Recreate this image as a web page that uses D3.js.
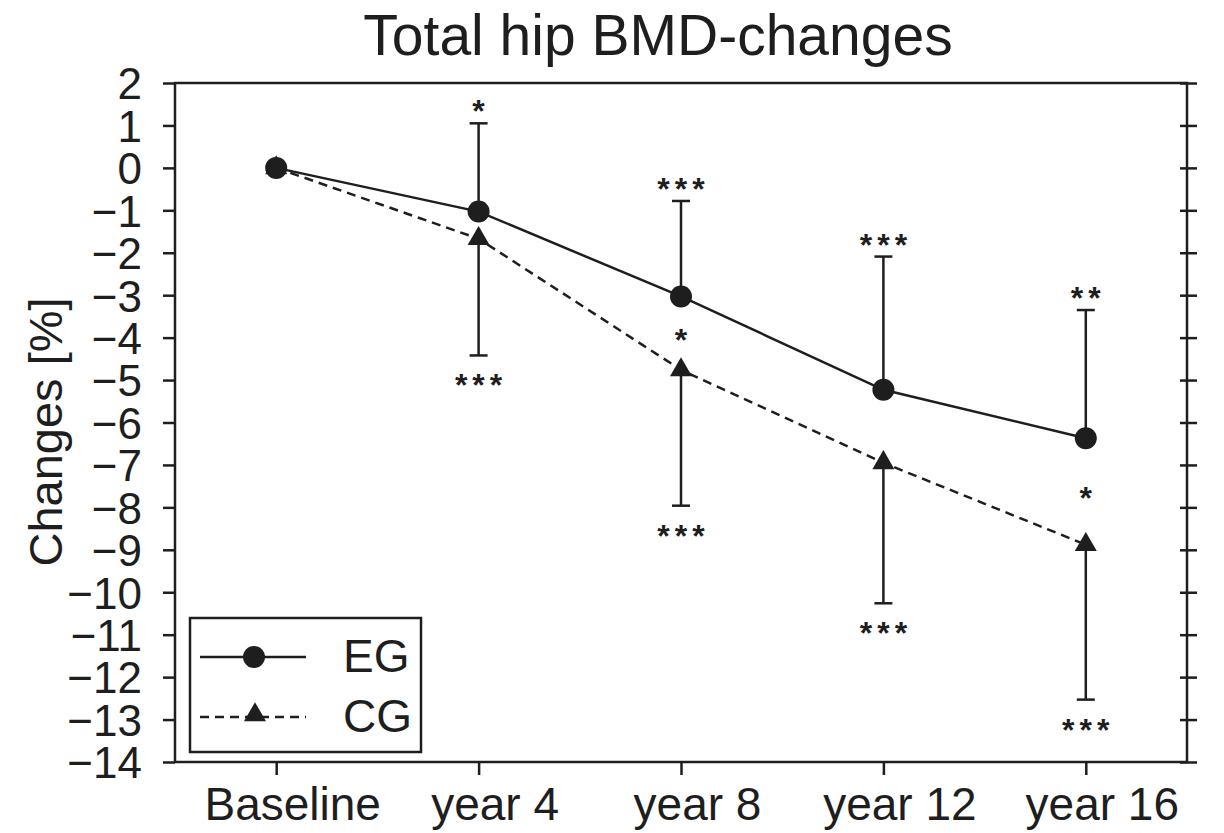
<!DOCTYPE html>
<html>
<head>
<meta charset="utf-8">
<script src="https://cdn.jsdelivr.net/npm/d3@7"></script>
<style>
    body { margin: 0; background: white; }
    text { font-family: "Liberation Sans", Arial, Helvetica, sans-serif; fill: #1e1e1e; }
</style>
</head>
<body>
<div id="chart"></div>
<script>
// values (% change of total hip BMD)
const categories = ["Baseline", "year 4", "year 8", "year 12", "year 16"];
const egValues = [0, -1.03, -3.03, -5.23, -6.37];
const cgValues = [0, -1.67, -4.76, -6.95, -8.88];
const egUpper = [null, 1.05, -0.78, -2.09, -3.35];
const cgLower = [null, -4.42, -7.96, -10.26, -12.53];
const egStars = ["", "*", "***", "***", "**"];
const cgStars = ["", "***", "***", "***", "***"];
const groupStars = ["", "", "*", "", "*"];
const yTicks = d3.range(-14, 3, 1);

const width = 1224, height = 833;
const ink = "#1e1e1e";

const svg = d3.select("#chart").append("svg")
    .attr("width", width)
    .attr("height", height)
    .style("background-color", "white");

const x = d3.scalePoint()
    .domain(categories)
    .range([175, 1187])
    .padding(0.5);

const y = d3.scaleLinear()
    .domain([-14, 2])
    .range([762, 83]);

const left = x.range()[0], right = x.range()[1];

// title
svg.append("text")
    .attr("x", 658)
    .attr("y", 55)
    .attr("text-anchor", "middle")
    .style("font-size", "57px")
    .text("Total hip BMD-changes");

// y axis label
svg.append("text")
    .attr("transform", "translate(62," + 432 + ") rotate(-90)")
    .attr("text-anchor", "middle")
    .style("font-size", "47px")
    .text("Changes [%]");

// frame
svg.append("rect")
    .attr("x", left)
    .attr("y", y(2))
    .attr("width", right - left)
    .attr("height", y(-14) - y(2))
    .attr("fill", "none")
    .attr("stroke", ink)
    .attr("stroke-width", 2.5);

// left axis
const yAxisLeft = svg.append("g")
    .attr("transform", "translate(" + left + ",0)")
    .call(d3.axisLeft(y).tickValues(yTicks).tickSize(12).tickPadding(21));
yAxisLeft.select(".domain").remove();
yAxisLeft.attr("font-size", null).attr("font-family", null);
yAxisLeft.selectAll(".tick line").attr("stroke", ink).attr("stroke-width", 2.5);
yAxisLeft.selectAll(".tick text")
    .style("font-size", "44px")
    .attr("dy", "0.36em");

// right axis, ticks crossing the line
const yAxisRight = svg.append("g")
    .attr("transform", "translate(" + right + ",0)")
    .call(d3.axisRight(y).tickValues(yTicks).tickSize(10).tickFormat(""));
yAxisRight.select(".domain").remove();
yAxisRight.selectAll(".tick line")
    .attr("x1", -7)
    .attr("stroke", ink)
    .attr("stroke-width", 2.5);

// bottom axis
const xAxis = svg.append("g")
    .attr("transform", "translate(0," + y(-14) + ")")
    .call(d3.axisBottom(x).tickSize(13).tickPadding(12));
xAxis.select(".domain").remove();
xAxis.attr("font-size", null).attr("font-family", null);
xAxis.selectAll(".tick line").attr("stroke", ink).attr("stroke-width", 2.5);
xAxis.selectAll(".tick text")
    .style("font-size", "46px")
    .attr("dx", 16);

const egData = categories.map((c, i) => ({ cat: c, v: egValues[i], bar: egUpper[i], stars: egStars[i] }));
const cgData = categories.map((c, i) => ({ cat: c, v: cgValues[i], bar: cgLower[i], stars: cgStars[i] }));

const line = d3.line()
    .x(d => x(d.cat))
    .y(d => y(d.v));

const plot = svg.append("g");

plot.append("path")
    .datum(cgData)
    .attr("d", line)
    .attr("fill", "none")
    .attr("stroke", ink)
    .attr("stroke-width", 2.5)
    .attr("stroke-dasharray", "9,6");

plot.append("path")
    .datum(egData)
    .attr("d", line)
    .attr("fill", "none")
    .attr("stroke", ink)
    .attr("stroke-width", 2.5);

// error bars (one-sided)
function drawBars(data) {
    const g = plot.append("g").selectAll("g")
        .data(data.filter(d => d.bar !== null))
        .enter()
        .append("g");
    g.append("line")
        .attr("x1", d => x(d.cat)).attr("x2", d => x(d.cat))
        .attr("y1", d => y(d.v)).attr("y2", d => y(d.bar))
        .attr("stroke", ink).attr("stroke-width", 2.5);
    g.append("line")
        .attr("x1", d => x(d.cat) - 9).attr("x2", d => x(d.cat) + 9)
        .attr("y1", d => y(d.bar)).attr("y2", d => y(d.bar))
        .attr("stroke", ink).attr("stroke-width", 2.5);
}
drawBars(egData);
drawBars(cgData);

// markers
const triangle = d3.symbol().type(d3.symbolTriangle).size(210);

plot.append("g").selectAll("path")
    .data(cgData)
    .enter()
    .append("path")
    .attr("d", triangle)
    .attr("transform", d => "translate(" + x(d.cat) + "," + y(d.v) + ")")
    .attr("fill", ink);

plot.append("g").selectAll("circle")
    .data(egData)
    .enter()
    .append("circle")
    .attr("cx", d => x(d.cat))
    .attr("cy", d => y(d.v))
    .attr("r", 11)
    .attr("fill", ink);

// significance asterisks
const starSize = 32, starSpacing = 5;
function starText(sel) {
    sel.attr("text-anchor", "middle")
        .style("font-size", starSize + "px")
        .style("font-weight", "bold")
        .style("letter-spacing", starSpacing + "px")
        .attr("dx", starSpacing / 2)
        .text(d => d.stars);
}

plot.append("g").selectAll("text")
    .data(egData.filter(d => d.stars))
    .enter()
    .append("text")
    .attr("x", d => x(d.cat))
    .attr("y", d => y(d.bar) - 1)
    .call(starText);

plot.append("g").selectAll("text")
    .data(cgData.filter(d => d.stars))
    .enter()
    .append("text")
    .attr("x", d => x(d.cat))
    .attr("y", d => y(d.bar) + 41)
    .call(starText);

const groupData = categories.map((c, i) => ({ cat: c, mid: (egValues[i] + cgValues[i]) / 2, stars: groupStars[i] }))
    .filter(d => d.stars);
plot.append("g").selectAll("text")
    .data(groupData)
    .enter()
    .append("text")
    .attr("x", d => x(d.cat))
    .attr("y", d => y(d.mid) + 18)
    .call(starText);

// legend
const legend = svg.append("g").attr("transform", "translate(190,618)");
legend.append("rect")
    .attr("width", 231)
    .attr("height", 134)
    .attr("fill", "white")
    .attr("stroke", ink)
    .attr("stroke-width", 2.5);

const legendItems = [
    { name: "EG", dash: null, shape: "circle" },
    { name: "CG", dash: "9,6", shape: "triangle" }
];
legendItems.forEach((item, i) => {
    const ly = 39 + i * 60;
    legend.append("line")
        .attr("x1", 10).attr("x2", 116)
        .attr("y1", ly).attr("y2", ly)
        .attr("stroke", ink)
        .attr("stroke-width", 2.5)
        .attr("stroke-dasharray", item.dash);
    if (item.shape === "circle") {
        legend.append("circle").attr("cx", 64).attr("cy", ly).attr("r", 11).attr("fill", ink);
    } else {
        legend.append("path").attr("d", triangle)
            .attr("transform", "translate(65," + (ly - 2) + ")")
            .attr("fill", ink);
    }
    legend.append("text")
        .attr("x", 153)
        .attr("y", ly + 15)
        .style("font-size", "46px")
        .text(item.name);
});
</script>
</body>
</html>
